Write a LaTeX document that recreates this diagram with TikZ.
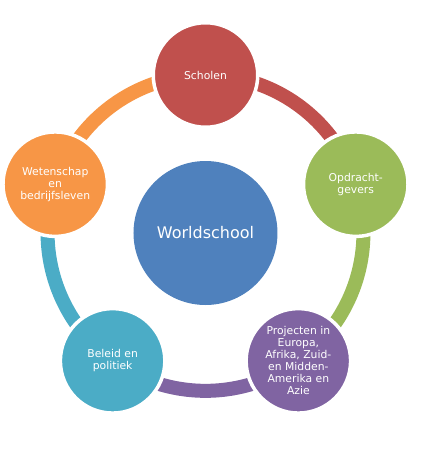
\documentclass[tikz,border=0pt]{standalone}
\usepackage{fontspec}
\setmainfont{DejaVu Sans}
\usetikzlibrary{backgrounds}

\definecolor{wsblue}{HTML}{4F81BD}
\definecolor{wsred}{HTML}{C0504D}
\definecolor{wsgreen}{HTML}{9BBB59}
\definecolor{wspurple}{HTML}{8064A2}
\definecolor{wsteal}{HTML}{4BACC6}
\definecolor{wsorange}{HTML}{F79646}

\begin{document}
\begin{tikzpicture}[font=\fontsize{10.8}{12}\selectfont,
                    hub/.style={circle,fill=wsblue,text=white,minimum size=144pt,inner sep=0,outer sep=0,
                                font=\fontsize{16}{19}\selectfont},
                    spoke/.style={circle,fill=#1,draw=white,line width=3.5pt,text=white,align=center,
                                  minimum size=104.5pt,inner sep=0,outer sep=0},
                    ring/.style={draw=#1,line width=14pt,bend left=36,looseness=0.94},
                    ]
  \useasboundingbox (-205.5pt,-226pt) rectangle (216.5pt,233pt);

  \node[hub] (worldschool) at (0,0) {Worldschool};

  \node[spoke=wsred] (scholen) at (90:158pt) {Scholen};
  \node[spoke=wsgreen] (opdracht) at (18:158pt) {Opdracht-\\gevers};
  \node[spoke=wspurple] (projecten) at (-54:158pt) {Projecten in\\Europa,\\Afrika, Zuid-\\en Midden-\\Amerika en\\Azie};
  \node[spoke=wsteal] (beleid) at (-126:158pt) {Beleid en\\politiek};
  \node[spoke=wsorange] (wetenschap) at (162:158pt) {Wetenschap\\en\\bedrijfsleven};

  \begin{scope}[on background layer]
    \draw[ring=wsred] (scholen.center) to (opdracht.center);
    \draw[ring=wsgreen] (opdracht.center) to (projecten.center);
    \draw[ring=wspurple] (projecten.center) to (beleid.center);
    \draw[ring=wsteal] (beleid.center) to (wetenschap.center);
    \draw[ring=wsorange] (wetenschap.center) to (scholen.center);
  \end{scope}
\end{tikzpicture}
\end{document}
